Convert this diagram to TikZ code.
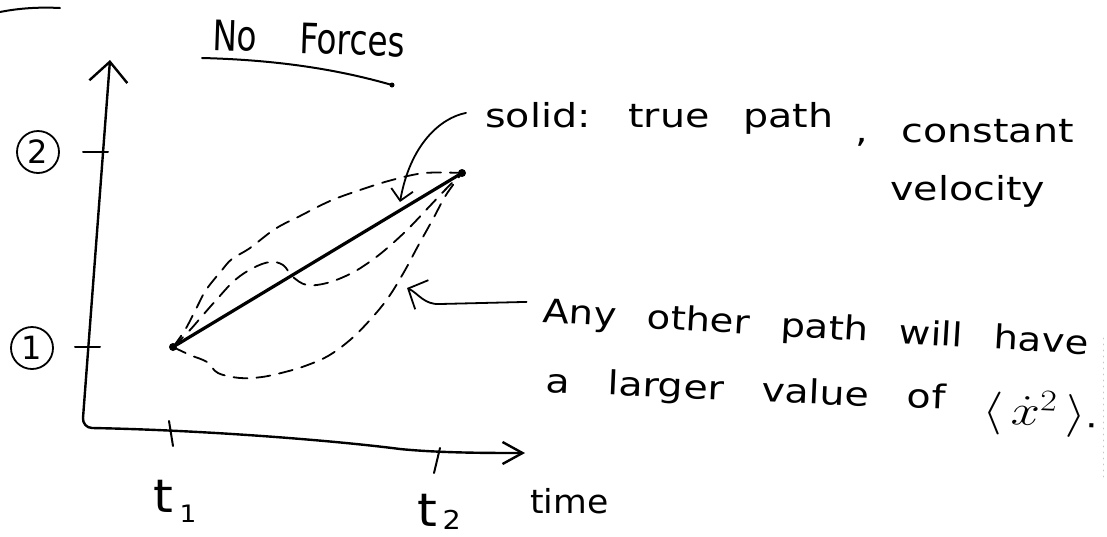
\RequirePackage{fix-cm}
\documentclass[tikz,border=0pt]{standalone}
\usepackage{fontspec}
\setmainfont{DejaVu Sans}
\usetikzlibrary{arrows.meta}

\begin{document}
\begin{tikzpicture}[
    x=1pt, y=-1pt,
    line cap=round, line join=round,
    every node/.style={inner sep=0pt},
    hand/.style={font=\fontsize{33}{40}\selectfont, transform shape, xscale=#1, execute at begin node={\spaceskip=0.85em\relax}},
    hand/.default=1.2,
    heading/.style={font=\fontsize{42}{50}\selectfont, transform shape, xscale=0.78, execute at begin node={\spaceskip=1.3em\relax}},
    tlab/.style={font=\fontsize{46}{50}\selectfont, transform shape, xscale=1.1},
    numlab/.style={draw, circle, line width=1.8pt, minimum size=42pt, font=\fontsize{32}{36}\selectfont},
    axis/.style={line width=2.4pt},
    tick/.style={line width=2pt},
    pt/.style={circle, fill, minimum size=8pt},
    trial/.style={line width=1.8pt, dash pattern=on 14pt off 9pt},
    note/.style={line width=1.8pt, -{Straight Barb[length=11pt,width=22pt]}}
]

\fill[white] (0,0) rectangle (1107,536);
\useasboundingbox (0,0) rectangle (1107,536);

\draw[line width=2pt] (0,12) .. controls (20,8) and (40,7) .. (60,8);

\node[rotate=-2, heading, anchor=base west] (title) at (212,50) {No Forces};
\draw[line width=2pt] (202,58) .. controls (280,60) and (340,70) .. (392,85);
\fill (392,85) circle (2.5pt);

\coordinate (origin) at (83,418);
\coordinate (ytip) at (110,60);
\coordinate (xtip) at (525,453);
\draw[axis, {Straight Barb[length=20pt,width=38pt]}-{Straight Barb[length=20pt,width=22pt]}]
    (ytip) -- (origin) to[out=-95,in=180] (92,428) .. controls (200,430) and (330,440) .. (400,449) .. controls (440,453) and (490,453) .. (xtip);

\draw[tick] (83,152) -- (108,152);
\draw[tick] (75,347) -- (100,347);
\draw[tick] (169,421) -- (173,446);
\draw[tick] (440,448) -- (434,473);

\node[numlab] (two) at (38,152) {2};
\node[numlab] (one) at (32,348) {1};
\node[tlab, anchor=base west] (t1) at (153,512) {t\hspace{6pt}\raisebox{-10pt}{\fontsize{24}{26}\selectfont 1}};
\node[tlab, anchor=base west] (t2) at (417,526) {t\hspace{5pt}\raisebox{-3pt}{\fontsize{26}{28}\selectfont 2}};
\node[hand=1.05, anchor=base west] (timelbl) at (530,513) {time};

\node[pt] (p1) at (173,347) {};
\node[pt] (p2) at (462,173) {};

\draw[trial] plot[smooth, tension=0.6] coordinates {(p1.center) (185,330) (197,307) (206,290) (222,270) (232,259) (250,248) (275,229) (300,216) (330,201) (360,190) (392,180) (425,173) (p2.center)};
\draw[trial] plot[smooth, tension=0.6] coordinates {(p1.center) (190,330) (203,315) (218,298) (235,280) (253,268) (270,262) (283,265) (293,277) (307,285) (327,283) (350,274) (368,263) (385,250) (407,230) (427,209) (445,190) (p2.center)};
\draw[trial] plot[smooth, tension=0.6] coordinates {(p1.center) (190,355) (207,362) (218,373) (240,378) (262,377) (285,372) (305,366) (328,356) (350,340) (370,320) (388,298) (404,272) (418,246) (433,219) (446,195) (p2.center)};
\draw[line width=3.2pt] (p1) -- (p2);

\node[hand, anchor=base west] (soltxt) at (485,127) {solid: true path};
\node[hand, anchor=base west] (consttxt) at (855,142) {, constant};
\node[hand, anchor=base west] (veltxt) at (890,200) {velocity};
\node[rotate=-3.4, hand=1.17, anchor=base west, execute at begin node={\spaceskip=0.8em\relax}] (anytxt) at (542,322) {Any other path will have};
\node[rotate=-2.5, hand, anchor=base west, execute at begin node={\spaceskip=0.95em\relax}] (largertxt) at (545,392) {a larger value of \raisebox{-12pt}{\scalebox{1.3}{$\big\langle\,\dot{x}^{2}\,\big\rangle$}.}};

\coordinate (solTip) at (400,202);
\coordinate (anyTip) at (407,288);
\draw[note] ([xshift=-19pt,yshift=5pt]soltxt.west) .. controls (440,118) and (410,145) .. (solTip);
\draw[note, -{Straight Barb[length=15pt,width=32pt]}] ([xshift=-16pt,yshift=11pt]anytxt.west) -- (440,304) .. controls (424,305) and (418,293) .. (anyTip);

\draw[gray!45, line width=0.7pt, dash pattern=on 1pt off 5pt] (1103,338) -- (1103,478);

\end{tikzpicture}
\end{document}
